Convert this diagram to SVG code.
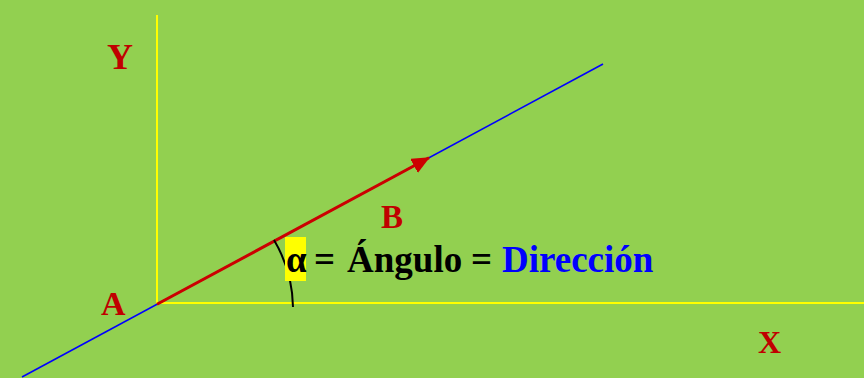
<svg xmlns="http://www.w3.org/2000/svg" width="864" height="378" viewBox="0 0 864 378">
<style>
.lbl{font-family:"Liberation Serif","Times New Roman",serif;font-weight:bold;fill:#C00000}
.main{font-family:"Liberation Serif","Times New Roman",serif;font-weight:bold;font-size:37px;fill:#000}
.ax{stroke:#FFFF00;stroke-width:2;fill:none}
</style>
<defs>
<marker id="ah" markerWidth="18" markerHeight="16" refX="17" refY="8" orient="auto" markerUnits="userSpaceOnUse">
<path d="M0,0 L18,8 L0,16 z" fill="#CC0000"/>
</marker>
</defs>
<rect width="864" height="378" fill="#92D050"/>
<g id="connectors">
<line id="y-axis" class="ax" x1="157" y1="15" x2="157" y2="304"/>
<line id="x-axis" class="ax" x1="157" y1="303" x2="864" y2="303"/>
<line id="direction-line" x1="22" y1="377" x2="603" y2="64" stroke="#0000FF" stroke-width="1.6"/>
<line id="vector-AB" x1="157" y1="304.3" x2="429" y2="157.8" stroke="#CC0000" stroke-width="3" marker-end="url(#ah)"/>
<path id="angle-arc" d="M274 240 A136 136 0 0 1 293 307" fill="none" stroke="#000" stroke-width="2"/>
</g>
<g id="label-Y"><text class="lbl" x="107" y="69" font-size="36">Y</text></g>
<g id="label-X"><text class="lbl" x="758" y="353" font-size="32">X</text></g>
<g id="label-A"><text class="lbl" x="101" y="315" font-size="34">A</text></g>
<g id="label-B"><text class="lbl" x="381" y="228" font-size="33">B</text></g>
<g id="angle-label">
<rect x="285" y="237" width="21" height="44" fill="#FFFF00"/>
<text class="main" y="272"><tspan x="286">α</tspan><tspan x="314">=</tspan><tspan x="347">Ángulo</tspan><tspan x="471">=</tspan><tspan x="502" fill="#0000FF">Dirección</tspan></text>
</g>
</svg>
